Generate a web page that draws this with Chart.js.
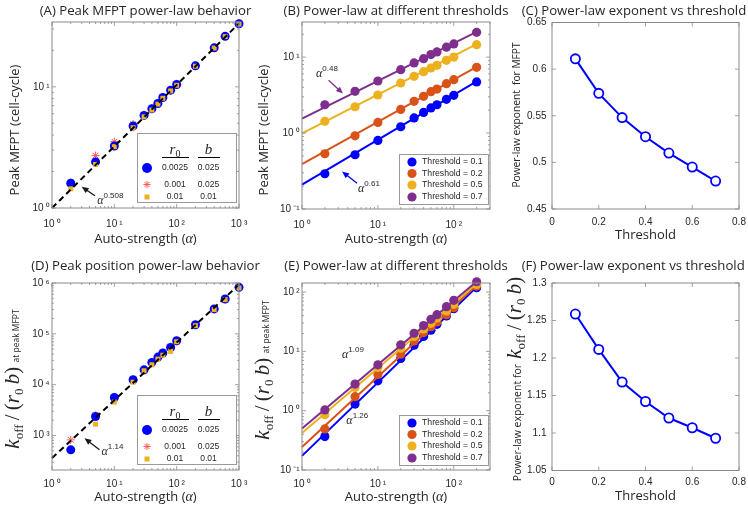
<!DOCTYPE html>
<html>
<head>
<meta charset="utf-8">
<script src="https://cdn.jsdelivr.net/npm/chart.js@4.4.0/dist/chart.umd.min.js"></script>
<style>
  body { margin: 0; background: #fff; }
  #page { position: relative; width: 748px; height: 506px; }
  canvas { position: absolute; left: 0; top: 0; }
</style>
</head>
<body>
<div id="page">
  <canvas id="pA" width="748" height="506"></canvas>
  <canvas id="pB" width="748" height="506"></canvas>
  <canvas id="pC" width="748" height="506"></canvas>
  <canvas id="pD" width="748" height="506"></canvas>
  <canvas id="pE" width="748" height="506"></canvas>
  <canvas id="pF" width="748" height="506"></canvas>
</div>
<script>
// ---- data ----
var alphaAll = [2, 5, 10, 20, 30, 40, 50, 60, 80, 100, 200, 400, 600, 1000];
var mfptBlue = [1.60, 2.40, 3.25, 4.75, 5.81, 6.59, 7.29, 8.17, 9.39, 10.45, 14.9, 21.0, 26.1, 33.2];
var mfptRed = [1.63, 2.71, 3.53, 4.93, 5.90, 6.70, 7.40, 8.25, 9.30, 10.6, 15.0, 21.1, 26.2, 33.3];
var mfptOrange = [1.44, 2.29, 3.21, 4.60, 5.66, 6.43, 7.20, 8.05, 9.25, 10.3, 14.8, 20.9, 26.0, 33.0];
var fitAX = [1, 1000];
var fitAY = [1, 33.4];

var alphaThr = [2, 5, 10, 20, 30, 40, 50, 60, 80, 100, 200];
var mfptT01 = [0.291, 0.518, 0.80, 1.21, 1.58, 1.87, 2.14, 2.36, 2.78, 3.14, 4.71];
var mfptT02 = [0.534, 0.92, 1.38, 2.05, 2.62, 3.05, 3.51, 3.80, 4.47, 5.05, 7.34];
var mfptT05 = [1.43, 2.22, 3.17, 4.56, 5.59, 6.44, 7.19, 7.80, 9.08, 10.0, 14.6];
var mfptT07 = [2.36, 3.54, 4.85, 6.84, 8.38, 9.55, 10.8, 11.7, 13.5, 14.9, 21.2];
var fitThrX = [1, 200];
var fitB01 = [0.21, 4.8];
var fitB02 = [0.39, 7.45];
var fitB05 = [0.99, 14.8];
var fitB07 = [1.55, 21.5];

var thresholds = [0.1, 0.2, 0.3, 0.4, 0.5, 0.6, 0.7];
var expMfpt = [0.611, 0.574, 0.548, 0.5275, 0.510, 0.495, 0.480];

var koffBlue = [523, 2370, 5610, 12500, 19600, 27400, 34900, 41900, 54000, 73000, 151000, 309000, 484000, 822000];
var koffRed = [822, 2500, 5300, 12100, 19100, 26200, 33500, 40500, 56600, 71000, 148000, 303000, 476000, 810000];
var koffOrange = [null, 1672, 4540, 11200, 18800, 24700, 31900, 38000, 45200, 70000, 145000, 299000, 470000, 798000];
var fitDX = [1, 1000];
var fitDY = [360, 930000];

var koffT01 = [0.366, 1.29, 3.19, 7.58, 12.7, 17.8, 22.7, 28.6, 39.5, 52.5, 118];
var koffT02 = [0.492, 1.72, 4.08, 8.96, 15.0, 20.7, 26.1, 31.3, 41.6, 54.5, 126];
var koffT05 = [0.857, 2.47, 5.35, 11.3, 17.8, 23.9, 29.7, 36.6, 47.9, 62.0, 134];
var koffT07 = [1.03, 2.81, 5.93, 12.9, 20.2, 27.2, 34.7, 41.6, 56.7, 72.4, 149];
var fitE01 = [0.173, 122];
var fitE02 = [0.245, 130];
var fitE05 = [0.42, 138];
var fitE07 = [0.50, 150];

var expKoff = [1.2586, 1.2115, 1.168, 1.142, 1.120, 1.107, 1.093];

var legendR0 = ['0.0025', '0.001', '0.01'];
var legendB = ['0.025', '0.025', '0.01'];
var thresholdNames = ['Threshold = 0.1', 'Threshold = 0.2', 'Threshold = 0.5', 'Threshold = 0.7'];
var decades = [0.1, 1, 10, 100, 1000, 10000, 100000, 1000000];

// ---- styles ----
var W = 748, H = 506;
var TEXT = '#262626';
var AXIS = '#8a8a8a';
var LEGEND_EDGE = '#9a9a9a';
var BLUE = '#0000ff', RED = '#ff5a5a', ORANGE = '#edb120';
var THR_COLORS = ['#0000ff', '#d95319', '#edb120', '#7e2f8e'];
var SANS = '"Open Sans", "Noto Sans", sans-serif';
var HELV = '"Liberation Sans", Arial, sans-serif';
var SERIF = '"Liberation Serif", "DejaVu Serif", serif';

var SUP = {'0': '\u2070', '1': '\u00b9', '2': '\u00b2', '3': '\u00b3', '4': '\u2074', '5': '\u2075',
           '6': '\u2076', '7': '\u2077', '8': '\u2078', '9': '\u2079', '-': '\u207b'};

function decadeLabel(v) {
  var e = String(Math.round(Math.log10(v)));
  return '10\u2009' + e.split('').map(function (c) { return SUP[c]; }).join('');
}

function plainLabel(v) {
  return String(+v.toFixed(3));
}

// text runs
function txt(t, size, dy) { return { t: t, font: size + 'px ' + SANS, dy: dy }; }
function mi(t, size, dy) { return { t: t, font: 'italic ' + size + 'px ' + SERIF, dy: dy }; }
function mr(t, size, dy) { return { t: t, font: size + 'px ' + SERIF, dy: dy }; }
function sup(t) { return { t: t, font: '8px ' + HELV, dy: -6 }; }

function koffRuns() {
  return [mi('k', 21), mr('off', 13, 4), mr('\u2009/\u2009', 21), mr('(', 21), mi('r', 21),
          mr('0', 13, 4), mr('\u2009', 21), mi('b', 21), mr(')', 21)];
}

function drawRich(ctx, runs, x, y, angle, align) {
  ctx.save();
  ctx.translate(x, y);
  ctx.rotate(angle || 0);
  var w = 0;
  runs.forEach(function (r) { ctx.font = r.font; w += ctx.measureText(r.t).width; });
  var cx = align === 'left' ? 0 : (align === 'right' ? -w : -w / 2);
  ctx.textAlign = 'left';
  ctx.textBaseline = 'alphabetic';
  runs.forEach(function (r) {
    ctx.font = r.font;
    ctx.fillStyle = r.color || TEXT;
    ctx.fillText(r.t, cx, r.dy || 0);
    cx += ctx.measureText(r.t).width;
  });
  ctx.restore();
}

function drawArrow(ctx, x1, y1, x2, y2, color) {
  var ang = Math.atan2(y2 - y1, x2 - x1), L = 7, hw = 3;
  var c = Math.cos(ang), s = Math.sin(ang);
  ctx.save();
  ctx.strokeStyle = color;
  ctx.fillStyle = color;
  ctx.lineWidth = 1.3;
  ctx.beginPath();
  ctx.moveTo(x1, y1);
  ctx.lineTo(x2 - L * 0.7 * c, y2 - L * 0.7 * s);
  ctx.stroke();
  ctx.beginPath();
  ctx.moveTo(x2, y2);
  ctx.lineTo(x2 - L * c + hw * s, y2 - L * s - hw * c);
  ctx.lineTo(x2 - L * c - hw * s, y2 - L * s + hw * c);
  ctx.closePath();
  ctx.fill();
  ctx.restore();
}

function drawMarker(ctx, kind, x, y) {
  ctx.save();
  if (kind === 'circle') {
    ctx.fillStyle = BLUE;
    ctx.beginPath(); ctx.arc(x, y, 5, 0, Math.PI * 2); ctx.fill();
  } else if (kind === 'star') {
    var r = 3.6, d = r * Math.SQRT1_2;
    ctx.strokeStyle = RED; ctx.lineWidth = 1;
    ctx.beginPath();
    ctx.moveTo(x - r, y); ctx.lineTo(x + r, y);
    ctx.moveTo(x, y - r); ctx.lineTo(x, y + r);
    ctx.moveTo(x - d, y - d); ctx.lineTo(x + d, y + d);
    ctx.moveTo(x - d, y + d); ctx.lineTo(x + d, y - d);
    ctx.stroke();
  } else {
    ctx.fillStyle = ORANGE;
    ctx.fillRect(x - 2.5, y - 2.5, 5, 5);
  }
  ctx.restore();
}

function tableLegend(ctx, a) {
  var x0 = a.right - 102, y0 = a.bottom - 75;
  ctx.save();
  ctx.fillStyle = '#fff';
  ctx.fillRect(x0, y0, 99, 69);
  ctx.strokeStyle = LEGEND_EDGE; ctx.lineWidth = 1;
  ctx.strokeRect(x0 + 0.5, y0 + 0.5, 99, 69);
  drawRich(ctx, [mi('r', 15), mr('0', 10, 3)], x0 + 38, y0 + 21, 0, 'center');
  drawRich(ctx, [mi('b', 15)], x0 + 71.5, y0 + 21, 0, 'center');
  ctx.strokeStyle = '#000';
  ctx.beginPath();
  ctx.moveTo(x0 + 25, y0 + 24.5); ctx.lineTo(x0 + 52, y0 + 24.5);
  ctx.moveTo(x0 + 61, y0 + 24.5); ctx.lineTo(x0 + 83, y0 + 24.5);
  ctx.stroke();
  var rowY = [35, 51.5, 64], kinds = ['circle', 'star', 'square'];
  for (var i = 0; i < 3; i++) {
    var y = y0 + rowY[i];
    drawMarker(ctx, kinds[i], x0 + 10, y);
    ctx.font = '8.5px ' + HELV; ctx.fillStyle = TEXT;
    ctx.textAlign = 'center'; ctx.textBaseline = 'middle';
    ctx.fillText(legendR0[i], x0 + 38, y);
    ctx.fillText(legendB[i], x0 + 71.5, y);
  }
  ctx.restore();
}

function thresholdLegend(ctx, a) {
  var x0 = a.right - 91, y0 = a.bottom - 55;
  ctx.save();
  ctx.fillStyle = '#fff';
  ctx.fillRect(x0, y0, 90, 51);
  ctx.strokeStyle = LEGEND_EDGE; ctx.lineWidth = 1;
  ctx.strokeRect(x0 + 0.5, y0 + 0.5, 89, 50);
  var rowY = [8, 19.5, 31, 43];
  for (var i = 0; i < 4; i++) {
    var y = y0 + rowY[i];
    ctx.fillStyle = THR_COLORS[i];
    ctx.beginPath(); ctx.arc(x0 + 13, y, 4.6, 0, Math.PI * 2); ctx.fill();
    ctx.font = '8.7px ' + HELV; ctx.fillStyle = TEXT;
    ctx.textAlign = 'left'; ctx.textBaseline = 'middle';
    ctx.fillText(thresholdNames[i], x0 + 23, y);
  }
  ctx.restore();
}

function tickValues(scale) {
  if (scale.type === 'logarithmic') {
    var out = [];
    for (var e = Math.floor(Math.log10(scale.min)); e <= Math.ceil(Math.log10(scale.max)); e++) {
      for (var k = 1; k < 10; k++) {
        var v = k * Math.pow(10, e);
        if (v >= scale.min * 0.9999 && v <= scale.max * 1.0001) out.push({ v: v, major: k === 1 });
      }
    }
    return out;
  }
  return scale.ticks.map(function (t) { return { v: t.value, major: true }; });
}

function drawFrame(ctx, chart) {
  var a = chart.chartArea, xs = chart.scales.x, ys = chart.scales.y;
  ctx.save();
  ctx.strokeStyle = AXIS;
  ctx.lineWidth = 0.8;
  ctx.beginPath();
  tickValues(xs).forEach(function (t) {
    var px = xs.getPixelForValue(t.v), len = t.major ? 4 : 2;
    ctx.moveTo(px, a.bottom); ctx.lineTo(px, a.bottom - len);
    ctx.moveTo(px, a.top); ctx.lineTo(px, a.top + len);
  });
  tickValues(ys).forEach(function (t) {
    var py = ys.getPixelForValue(t.v), len = t.major ? 4 : 2;
    ctx.moveTo(a.left, py); ctx.lineTo(a.left + len, py);
    ctx.moveTo(a.right, py); ctx.lineTo(a.right - len, py);
  });
  ctx.stroke();
  ctx.lineWidth = 1;
  ctx.strokeRect(a.left, a.top, a.right - a.left, a.bottom - a.top);
  ctx.restore();
}

function fixY(s) { s.width = 40; s.paddingTop = 0; s.paddingBottom = 0; }
function fixX(s) { s.height = 25; s.paddingLeft = 0; s.paddingRight = 0; }

function logAxis(min, max, isY, pad) {
  return {
    type: 'logarithmic', min: min, max: max,
    grid: { display: false, drawTicks: false }, border: { display: false },
    ticks: { autoSkip: false, maxRotation: 0, padding: pad, color: TEXT,
             font: { family: HELV, size: 10 }, callback: decadeLabel },
    afterBuildTicks: function (s) {
      s.ticks = decades.filter(function (v) { return v >= min * 0.999 && v <= max * 1.001; })
                       .map(function (v) { return { value: v }; });
    },
    afterFit: isY ? fixY : fixX
  };
}

function linAxis(min, max, step, isY, pad) {
  return {
    type: 'linear', min: min, max: max,
    grid: { display: false, drawTicks: false }, border: { display: false },
    ticks: { stepSize: step, autoSkip: false, maxRotation: 0, padding: pad, color: TEXT,
             font: { family: HELV, size: 10 }, callback: plainLabel },
    afterFit: isY ? fixY : fixX
  };
}

function pts(xs, ys) {
  var out = [];
  xs.forEach(function (x, i) { if (ys[i] != null) out.push({ x: x, y: ys[i] }); });
  return out;
}

function dots(xs, ys, color, style, r, order) {
  return { data: pts(xs, ys), showLine: false, pointStyle: style, pointRadius: r,
           pointBackgroundColor: color, pointBorderColor: color,
           pointBorderWidth: style === 'star' ? 1 : 0, order: order, clip: false };
}

function fitLine(xs, ys, color, width, dash, order) {
  return { data: pts(xs, ys), showLine: true, borderColor: color, borderWidth: width,
           borderDash: dash || [], pointRadius: 0, order: order, clip: false };
}

function openLine(xs, ys) {
  return { data: pts(xs, ys), showLine: true, borderColor: BLUE, borderWidth: 2,
           pointStyle: 'circle', pointRadius: 4.6, pointBorderWidth: 1.8,
           pointBorderColor: BLUE, pointBackgroundColor: '#fff', clip: false };
}

function decorPlugin(p) {
  return {
    id: 'decor' + p.id,
    afterDraw: function (chart) {
      var ctx = chart.ctx, a = chart.chartArea, xs = chart.scales.x, ys = chart.scales.y;
      drawFrame(ctx, chart);
      drawRich(ctx, [txt(p.title[0], 13.2)], p.title[1], p.title[2], 0, p.title[3]);
      drawRich(ctx, p.xTitle[0], p.xTitle[1], p.xTitle[2], 0, 'center');
      drawRich(ctx, p.yTitle[0], p.yTitle[1], p.yTitle[2], -Math.PI / 2, 'center');
      (p.arrows || []).forEach(function (ar) {
        drawArrow(ctx, xs.getPixelForValue(ar[0]), ys.getPixelForValue(ar[1]),
                  xs.getPixelForValue(ar[2]), ys.getPixelForValue(ar[3]), ar[4]);
      });
      (p.notes || []).forEach(function (n) {
        drawRich(ctx, n[2], xs.getPixelForValue(n[0]), ys.getPixelForValue(n[1]), 0, 'left');
      });
      if (p.legend) p.legend(ctx, a);
    }
  };
}

function makePanel(p) {
  var a = p.area;
  new Chart(document.getElementById(p.id), {
    type: 'scatter',
    data: { datasets: p.datasets },
    options: {
      responsive: false, animation: false, devicePixelRatio: 1, events: [],
      layout: { padding: { left: a[0] - 40, top: a[1], right: W - a[2], bottom: H - a[3] - 25 } },
      scales: { x: p.x, y: p.y },
      plugins: { legend: { display: false }, tooltip: { enabled: false }, title: { display: false } }
    },
    plugins: [decorPlugin(p)]
  });
}

function alphaTitle(y, cx) {
  return [[txt('Auto-strength (', 13), mi('\u03b1', 14), txt(')', 13)], cx, y];
}

function thresholdSets(xs, series, fits) {
  var sets = [];
  for (var i = 0; i < 4; i++) {
    sets.push(dots(xs, series[i], THR_COLORS[i], 'circle', 4.6, 20 - 4 * i));
    sets.push(fitLine(fitThrX, fits[i], THR_COLORS[i], 2, null, 22 - 4 * i));
  }
  return sets;
}

// (A)
makePanel({
  id: 'pA', area: [52, 22, 239, 208],
  x: logAxis(1, 1000, false, 10), y: logAxis(1, 34.3, true, 2.5),
  datasets: [
    fitLine(fitAX, fitAY, '#000', 2, [6, 4], 0),
    dots(alphaAll, mfptOrange, ORANGE, 'rect', 3.5, 1),
    dots(alphaAll, mfptBlue, BLUE, 'circle', 4.5, 2),
    dots(alphaAll, mfptRed, RED, 'star', 4, 3)
  ],
  title: ['(A) Peak MFPT power-law behavior', 145.5, 14.5, 'center'],
  xTitle: alphaTitle(242.5, 145.5),
  yTitle: [[txt('Peak MFPT (cell-cycle)', 13)], 18.5, 130],
  arrows: [[4.88, 1.26, 2.99, 1.50, '#1a1a1a']],
  notes: [[5.3, 1.085, [mi('\u03b1', 12), sup('0.508')]]],
  legend: tableLegend
});

// (B)
makePanel({
  id: 'pB', area: [302, 22, 490, 209],
  x: logAxis(1, 300, false, 10), y: logAxis(0.1, 29, true, 2.5),
  datasets: thresholdSets(alphaThr, [mfptT01, mfptT02, mfptT05, mfptT07], [fitB01, fitB02, fitB05, fitB07]),
  title: ['(B) Power-law at different thresholds', 396, 14.5, 'center'],
  xTitle: alphaTitle(242.5, 396),
  yTitle: [[txt('Peak MFPT (cell-cycle)', 13)], 268.3, 130],
  arrows: [[2.24, 4.96, 3.47, 3.31, THR_COLORS[3]], [5.32, 0.219, 3.37, 0.312, THR_COLORS[0]]],
  notes: [[1.53, 5.48, [mi('\u03b1', 12), sup('0.48')]], [5.48, 0.167, [mi('\u03b1', 12), sup('0.61')]]],
  legend: thresholdLegend
});

// (C)
makePanel({
  id: 'pC', area: [552, 22.5, 739, 209],
  x: linAxis(0, 0.8, 0.2, false, 7), y: linAxis(0.45, 0.65, 0.05, true, 5.5),
  datasets: [openLine(thresholds, expMfpt)],
  title: ['(C) Power-law exponent vs threshold', 521.7, 14.5, 'left'],
  xTitle: [[txt('Threshold', 13)], 645.5, 238.5],
  yTitle: [[txt('Power-law exponent  for MFPT', 10.2)], 520, 115]
});

// (D)
makePanel({
  id: 'pD', area: [52, 283, 239, 470],
  x: logAxis(1, 1000, false, 8), y: logAxis(210, 1000000, true, 2.5),
  datasets: [
    fitLine(fitDX, fitDY, '#000', 2, [6, 4], 0),
    dots(alphaAll, koffOrange, ORANGE, 'rect', 3.5, 1),
    dots(alphaAll, koffBlue, BLUE, 'circle', 4.5, 2),
    dots(alphaAll, koffRed, RED, 'star', 4, 3)
  ],
  title: ['(D) Peak position power-law behavior', 145.5, 269.7, 'center'],
  xTitle: alphaTitle(500.5, 145.5),
  yTitle: [koffRuns().concat([txt('\u2002at peak MFPT', 8.5, -0.5)]), 19, 379],
  arrows: [[5.78, 523, 3.32, 889, '#1a1a1a']],
  notes: [[6.24, 417, [mi('\u03b1', 12), sup('1.14')]]],
  legend: tableLegend
});

// (E)
makePanel({
  id: 'pE', area: [302, 283, 490, 470],
  x: logAxis(1, 300, false, 8), y: logAxis(0.1, 142, true, 2.5),
  datasets: thresholdSets(alphaThr, [koffT01, koffT02, koffT05, koffT07], [fitE01, fitE02, fitE05, fitE07]),
  title: ['(E) Power-law at different thresholds', 396, 269.7, 'center'],
  xTitle: alphaTitle(500.5, 396),
  yTitle: [koffRuns().concat([txt('\u2002at peak MFPT', 8.5, -0.5)]), 269, 370],
  notes: [[3.37, 7.62, [mi('\u03b1', 12), sup('1.09')]], [3.84, 0.597, [mi('\u03b1', 12), sup('1.26')]]],
  legend: thresholdLegend
});

// (F)
makePanel({
  id: 'pF', area: [552, 283, 739, 470.5],
  x: linAxis(0, 0.8, 0.2, false, 6), y: linAxis(1.05, 1.3, 0.05, true, 5.5),
  datasets: [openLine(thresholds, expKoff)],
  title: ['(F) Power-law exponent vs threshold', 521.7, 269.7, 'left'],
  xTitle: [[txt('Threshold', 13)], 645.5, 500],
  yTitle: [[txt('Power-law exponent for\u2002', 10.5)].concat(koffRuns()), 520.5, 379]
});
</script>
</body>
</html>
